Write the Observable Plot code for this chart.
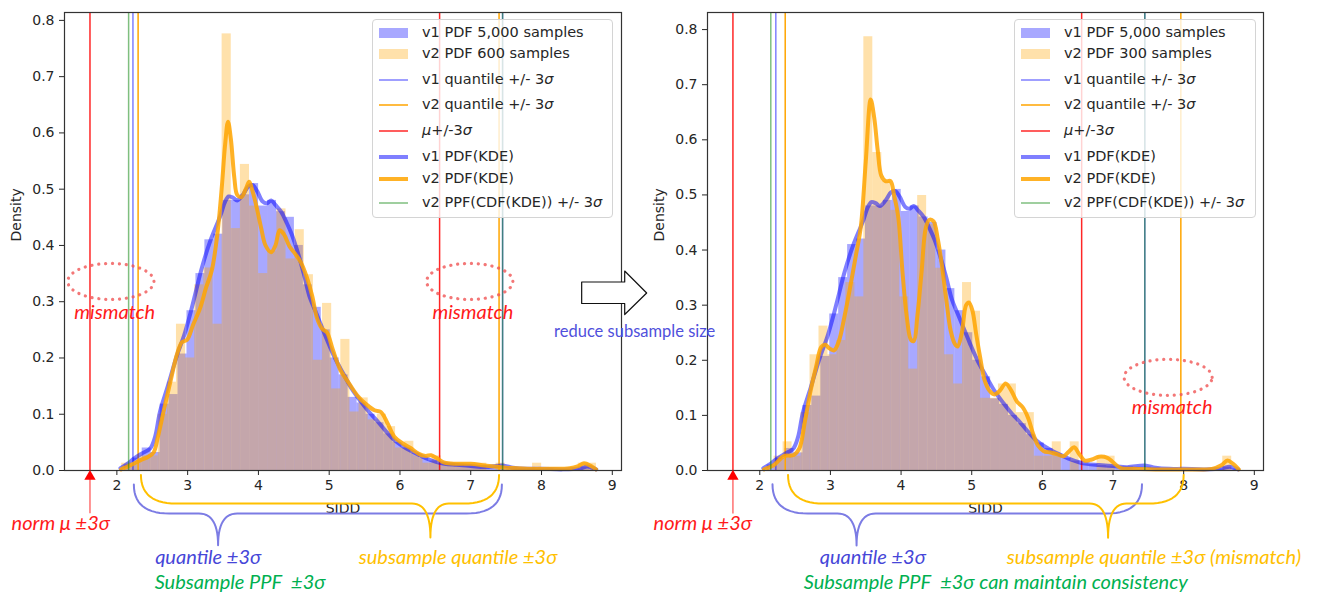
<!DOCTYPE html>
<html><head><meta charset="utf-8">
<script src="https://cdn.jsdelivr.net/npm/d3@7"></script>
<script src="https://cdn.jsdelivr.net/npm/@observablehq/plot@0.6"></script>
<style>
body{margin:0;background:#fff;}
#wrap{position:relative;width:1318px;height:596px;overflow:hidden;background:#fff;}
#wrap>svg{position:absolute;top:0;}
.legend{position:absolute;top:19px;height:199px;box-sizing:border-box;border:1px solid #d4d4d4;border-radius:4px;background:rgba(255,255,255,0.8);font-family:"DejaVu Sans";font-size:14.5px;color:#262626;}
.row{position:absolute;left:0;width:100%;height:0;}
.row svg{position:absolute;left:6px;top:-6px;}
.row span{position:absolute;left:49px;top:0;transform:translateY(-52%);white-space:nowrap;line-height:1;}
</style></head>
<body><div id="wrap"></div>
<script>
// ---------- data ----------
const xDomain = [1.26, 9.13];
const xTicks = [2, 3, 4, 5, 6, 7, 8, 9];
const yTicks = [0, 0.1, 0.2, 0.3, 0.4, 0.5, 0.6, 0.7, 0.8];

// v1 histogram (5,000 samples): bin start, bin width, densities
const v1Start = 2.105, v1Width = 0.1265;
const v1Density = [0.01,0.022,0.04,0.032,0.118,0.135,0.207,0.284,0.35,0.41,
  0.42,0.48,0.48,0.49,0.51,0.47,0.48,0.46,0.45,0.40,
  0.33,0.29,0.25,0.20,0.17,0.13,0.12,0.10,0.085,0.065,
  0.05,0.04,0.03,0.022,0.017,0.012,0.011,0.009,0.008,0.007,
  0.007,0.006,0.006,0.005,0.004,0.004,0.003,0.003,0.002,0.002,
  0.003,0.006,0.003];

// v2 histogram, left panel (600 samples)
const v2aStart = 2.068, v2aWidth = 0.129;
const v2aDensity = [0.013,0.013,0.026,0.026,0.1,0.157,0.26,0.2,0.33,0.36,
  0.26,0.776,0.43,0.544,0.47,0.35,0.39,0.465,0.376,0.428,
  0.348,0.196,0.297,0.145,0.233,0.104,0.129,0.09,0.1,0.078,
  0.04,0.052,0.026,0.013,0.026,0.013,0.013,0.013,0.013,0.013,
  0,0.013,0,0,0,0.013,0,0,0,0,
  0.013,0.013];

// v2 histogram, right panel (300 samples)
const v2bStart = 2.076, v2bWidth = 0.127;
const v2bDensity = [0,0.026,0.052,0.026,0.105,0.21,0.262,0.21,0.236,0.341,
  0.315,0.787,0.577,0.525,0.472,0.315,0.184,0.499,0.446,0.367,
  0.21,0.157,0.341,0.289,0.131,0.131,0.157,0.157,0.105,0.105,
  0.026,0.026,0.052,0,0.052,0,0,0.026,0.026,0,
  0,0,0,0,0,0,0,0,0,0,
  0,0.026,0];

// KDE curves [x, density]
const v1Kde = [[2.05,0.004],[2.15,0.012],[2.24,0.021],[2.35,0.03],[2.47,0.039],[2.54,0.06],[2.61,0.105],[2.72,0.15],[2.85,0.205],[2.95,0.24],[3.04,0.28],[3.12,0.32],[3.2,0.36],[3.32,0.408],[3.46,0.452],[3.53,0.478],[3.58,0.487],[3.64,0.485],[3.70,0.48],[3.78,0.49],[3.86,0.505],[3.92,0.507],[3.98,0.497],[4.06,0.478],[4.12,0.475],[4.18,0.48],[4.24,0.472],[4.32,0.46],[4.40,0.44],[4.47,0.42],[4.55,0.39],[4.64,0.35],[4.72,0.31],[4.80,0.285],[4.88,0.26],[4.97,0.232],[5.08,0.2],[5.2,0.172],[5.32,0.145],[5.45,0.122],[5.57,0.103],[5.68,0.088],[5.8,0.07],[5.92,0.054],[6.04,0.043],[6.15,0.035],[6.28,0.027],[6.4,0.02],[6.52,0.015],[6.63,0.012],[6.8,0.01],[7.0,0.008],[7.2,0.006],[7.45,0.009],[7.6,0.005],[7.8,0.003],[8.0,0.003],[8.3,0.002],[8.55,0.004],[8.65,0.007],[8.77,0.002]];
const v2aKde = [[2.06,0.002],[2.2,0.01],[2.33,0.018],[2.45,0.025],[2.52,0.032],[2.58,0.06],[2.66,0.105],[2.76,0.16],[2.85,0.207],[2.92,0.228],[2.99,0.232],[3.08,0.26],[3.18,0.29],[3.26,0.325],[3.34,0.355],[3.42,0.42],[3.48,0.5],[3.53,0.58],[3.57,0.62],[3.61,0.59],[3.66,0.52],[3.70,0.49],[3.76,0.486],[3.82,0.5],[3.87,0.513],[3.92,0.495],[3.98,0.465],[4.04,0.43],[4.1,0.4],[4.18,0.388],[4.24,0.4],[4.3,0.427],[4.36,0.42],[4.44,0.398],[4.52,0.385],[4.6,0.37],[4.68,0.345],[4.76,0.31],[4.83,0.27],[4.9,0.252],[4.97,0.245],[5.05,0.215],[5.16,0.178],[5.28,0.155],[5.40,0.133],[5.52,0.118],[5.64,0.107],[5.73,0.104],[5.82,0.085],[5.92,0.06],[6.04,0.048],[6.15,0.04],[6.26,0.03],[6.36,0.026],[6.44,0.027],[6.52,0.022],[6.63,0.014],[6.8,0.012],[7.0,0.012],[7.2,0.009],[7.5,0.005],[7.8,0.003],[8.1,0.003],[8.4,0.004],[8.52,0.008],[8.6,0.013],[8.7,0.008],[8.77,0.002]];
const v2bKde = [[2.06,0.002],[2.2,0.01],[2.34,0.026],[2.48,0.028],[2.56,0.04],[2.64,0.09],[2.72,0.145],[2.8,0.19],[2.87,0.224],[2.93,0.228],[2.98,0.222],[3.05,0.218],[3.12,0.235],[3.2,0.28],[3.28,0.333],[3.36,0.39],[3.43,0.442],[3.5,0.56],[3.57,0.673],[3.62,0.64],[3.67,0.58],[3.72,0.535],[3.78,0.525],[3.85,0.525],[3.9,0.5],[3.96,0.46],[4.02,0.36],[4.08,0.28],[4.14,0.237],[4.18,0.235],[4.23,0.28],[4.29,0.36],[4.35,0.44],[4.4,0.455],[4.46,0.452],[4.52,0.42],[4.58,0.37],[4.64,0.31],[4.7,0.255],[4.76,0.23],[4.8,0.225],[4.86,0.25],[4.92,0.3],[4.96,0.305],[5.01,0.29],[5.06,0.25],[5.12,0.205],[5.18,0.165],[5.25,0.145],[5.32,0.138],[5.4,0.145],[5.48,0.158],[5.56,0.145],[5.64,0.125],[5.72,0.115],[5.8,0.095],[5.86,0.07],[5.94,0.045],[6.02,0.035],[6.1,0.033],[6.2,0.03],[6.3,0.026],[6.38,0.035],[6.45,0.042],[6.52,0.03],[6.6,0.018],[6.7,0.02],[6.8,0.025],[6.92,0.023],[7.0,0.015],[7.1,0.005],[7.3,0.003],[7.6,0.002],[8.0,0.002],[8.4,0.003],[8.54,0.01],[8.62,0.018],[8.7,0.012],[8.78,0.002]];

// vertical reference lines
const leftMu = [1.62, 6.56], leftV1Q = [2.227, 7.45], leftV2Q = [2.30, 7.40], leftPpf = [2.166, 7.45];
const rightMu = [1.62, 6.556], rightV1Q = [2.227, 7.45], rightV2Q = [2.36, 7.96], rightPpf = [2.156, 7.45];

// legend labels
const legendLeft = ["v1 PDF 5,000 samples", "v2 PDF 600 samples", "v1 quantile +/- 3<i>σ</i>", "v2 quantile +/- 3<i>σ</i>", "<i>μ</i>+/-3<i>σ</i>", "v1 PDF(KDE)", "v2 PDF(KDE)", "v2 PPF(CDF(KDE)) +/- 3<i>σ</i>"];
const legendRight = ["v1 PDF 5,000 samples", "v2 PDF 300 samples", "v1 quantile +/- 3<i>σ</i>", "v2 quantile +/- 3<i>σ</i>", "<i>μ</i>+/-3<i>σ</i>", "v1 PDF(KDE)", "v2 PDF(KDE)", "v2 PPF(CDF(KDE)) +/- 3<i>σ</i>"];

// ---------- annotations (data coordinates) ----------
const RED = "#ff1a1a", BLUE_T = "#4646d8", GOLD = "#ffc000", GREEN_T = "#00b050";
const leftNotes = [
  {x: 1.97, y: 0.281, text: "mismatch", c: RED},
  {x: 7.03, y: 0.281, text: "mismatch", c: RED},
  {x: 1.207, y: -0.094, text: "norm μ ±3σ", c: RED},
  {x: 3.29, y: -0.155, text: "quantile ±3σ", c: BLUE_T},
  {x: 6.82, y: -0.155, text: "subsample quantile ±3σ", c: GOLD},
  {x: 3.74, y: -0.2, text: "Subsample PPF  ±3σ", c: GREEN_T}
];
const rightNotes = [
  {x: 7.836, y: 0.1145, text: "mismatch", c: RED},
  {x: 1.193, y: -0.0964, text: "norm μ ±3σ", c: RED},
  {x: 3.60, y: -0.158, text: "quantile ±3σ", c: BLUE_T},
  {x: 7.58, y: -0.158, text: "subsample quantile ±3σ (mismatch)", c: GOLD},
  {x: 5.34, y: -0.204, text: "Subsample PPF  ±3σ can maintain consistency", c: GREEN_T}
];
const leftEllipses = [{cx: 1.915, cy: 0.336, rx: 0.609, ry: 0.032}, {cx: 6.986, cy: 0.336, rx: 0.609, ry: 0.032}];
const rightEllipses = [{cx: 7.78, cy: 0.169, rx: 0.623, ry: 0.0327}];
const leftBraces = [
  {x1: 2.24, x2: 7.44, xc: 3.43, yEnd: -0.025, yMid: -0.0764, yTip: -0.133, r: 0.5, rc: 0.27, c: "#7c7ce4"},
  {x1: 2.34, x2: 7.40, xc: 6.43, yEnd: -0.008, yMid: -0.0587, yTip: -0.119, r: 0.5, rc: 0.26, c: "#ffc000"}
];
const rightBraces = [
  {x1: 2.18, x2: 7.41, xc: 3.37, yEnd: -0.025, yMid: -0.078, yTip: -0.136, r: 0.5, rc: 0.27, c: "#7c7ce4"},
  {x1: 2.40, x2: 8.0, xc: 6.93, yEnd: -0.008, yMid: -0.06, yTip: -0.122, r: 0.5, rc: 0.26, c: "#ffc000"}
];
const bigArrow = [[-0.521,0.342],[0.088,0.342],[0.088,0.362],[0.399,0.322],[0.088,0.283],[0.088,0.303],[-0.521,0.303],[-0.521,0.342]];

// ---------- helpers ----------
const bins = (start, width, dens) => dens.map((d, i) => ({x1: start + i * width, x2: start + (i + 1) * width, y: d}));
function bracePts(b) {
  const pts = [];
  const q = (p0, p1, p2) => { for (let k = 0; k <= 14; k++) { const t = k / 14; pts.push([(1-t)*(1-t)*p0[0] + 2*(1-t)*t*p1[0] + t*t*p2[0], (1-t)*(1-t)*p0[1] + 2*(1-t)*t*p1[1] + t*t*p2[1]]); } };
  q([b.x1, b.yEnd], [b.x1, b.yMid], [b.x1 + b.r, b.yMid]);
  q([b.xc - b.rc, b.yMid], [b.xc, b.yMid], [b.xc, b.yTip]);
  q([b.xc, b.yTip], [b.xc, b.yMid], [b.xc + b.rc, b.yMid]);
  q([b.x2 - b.r, b.yMid], [b.x2, b.yMid], [b.x2, b.yEnd]);
  return pts;
}
function ellipsePts(e) {
  return d3.range(0, 73).map(k => { const t = k / 72 * 2 * Math.PI; return [e.cx + e.rx * Math.cos(t), e.cy + e.ry * Math.sin(t)]; });
}

function panel(cfg) {
  const marks = [
    Plot.rectY(bins(v1Start, v1Width, v1Density), {x1: "x1", x2: "x2", y: "y", fill: "blue", fillOpacity: 0.34}),
    Plot.rectY(bins(cfg.v2Start, cfg.v2Width, cfg.v2Density), {x1: "x1", x2: "x2", y: "y", fill: "orange", fillOpacity: 0.33}),
    Plot.ruleX(cfg.v1Q, {stroke: "blue", strokeOpacity: 0.5, strokeWidth: 1.5}),
    Plot.ruleX(cfg.v2Q, {stroke: "orange", strokeWidth: 1.5}),
    Plot.ruleX(cfg.mu, {stroke: "red", strokeOpacity: 0.85, strokeWidth: 1.5}),
    Plot.line(v1Kde, {x: d => d[0], y: d => d[1], stroke: "blue", strokeOpacity: 0.5, strokeWidth: 4, curve: "catmull-rom"}),
    Plot.line(cfg.v2Kde, {x: d => d[0], y: d => d[1], stroke: "orange", strokeOpacity: 0.85, strokeWidth: 4, curve: "catmull-rom"}),
    Plot.ruleX(cfg.ppf, {stroke: "green", strokeOpacity: 0.5, strokeWidth: 1.5}),
    Plot.frame({stroke: "#333", strokeWidth: 1.2}),
    Plot.axisX({ticks: xTicks, tickSize: 5, tickPadding: 5, tickFormat: d => String(d), label: null}),
    Plot.axisY({ticks: yTicks, tickSize: 5, tickPadding: 5, tickFormat: d3.format(".1f"), label: null}),
    Plot.text(["SIDD"], {frameAnchor: "bottom", dy: 38, lineAnchor: "middle", fontSize: 14, fill: "#262626"}),
    Plot.text(["Density"], {frameAnchor: "left", dx: -48, rotate: -90, lineAnchor: "middle", fontSize: 14, fill: "#262626"}),
    // norm mu -3 sigma arrow
    Plot.link([cfg.mu[0]], {x1: d => d, x2: d => d, y1: cfg.arrowBottom, y2: cfg.arrowHead, stroke: "#ff4d4d", strokeWidth: 1.2}),
    Plot.dot([cfg.mu[0]], {x: d => d, y: cfg.arrowHead, symbol: "triangle", r: 4.2, fill: "red"})
  ];
  for (const b of cfg.braces) marks.push(Plot.line(bracePts(b), {x: d => d[0], y: d => d[1], stroke: b.c, strokeWidth: 2}));
  for (const e of cfg.ellipses) marks.push(Plot.line(ellipsePts(e), {x: d => d[0], y: d => d[1], stroke: "#f05555", strokeOpacity: 0.8, strokeWidth: 3.2, strokeDasharray: "0.1 6.8", strokeLinecap: "round"}));
  marks.push(Plot.text(cfg.notes, {x: "x", y: "y", text: "text", fill: "c", fontSize: 20, fontStyle: "italic", fontFamily: "Lato", lineAnchor: "middle"}));
  if (cfg.extra) marks.push(...cfg.extra);
  return Plot.plot({
    width: cfg.width, height: 596,
    marginLeft: cfg.ml, marginRight: cfg.mr, marginTop: 12, marginBottom: 126,
    x: {domain: xDomain, label: null},
    y: {domain: [0, cfg.yMax], label: null},
    color: {type: "identity"},
    style: {fontFamily: "DejaVu Sans", fontSize: "14px", color: "#262626", background: "none"},
    marks
  });
}

const wrap = document.getElementById("wrap");
const left = panel({
  width: 659, ml: 64, mr: 38, yMax: 0.814,
  v2Start: v2aStart, v2Width: v2aWidth, v2Density: v2aDensity, v2Kde: v2aKde,
  v1Q: leftV1Q, v2Q: leftV2Q, mu: leftMu, ppf: leftPpf,
  arrowBottom: -0.076, arrowHead: -0.0105,
  braces: leftBraces, ellipses: leftEllipses, notes: leftNotes
});
left.style.left = "0px";
wrap.appendChild(left);

const right = panel({
  width: 778, ml: 167, mr: 55, yMax: 0.831,
  v2Start: v2bStart, v2Width: v2bWidth, v2Density: v2bDensity, v2Kde: v2bKde,
  v1Q: rightV1Q, v2Q: rightV2Q, mu: rightMu, ppf: rightPpf,
  arrowBottom: -0.078, arrowHead: -0.0107,
  braces: rightBraces, ellipses: rightEllipses, notes: rightNotes,
  extra: [
    Plot.line(bigArrow, {x: d => d[0], y: d => d[1], fill: "white", stroke: "#111", strokeWidth: 1.2}),
    Plot.text(["reduce subsample size"], {x: 0.229, y: 0.251, fill: "#5050dc", fontSize: 16.5, fontFamily: "Lato", lineAnchor: "middle"})
  ]
});
right.style.left = "540px";
wrap.appendChild(right);

// ---------- legends ----------
const rowsY = [13, 34, 60, 85, 111, 137, 159, 183];
const swatches = [
  {kind: "patch", color: "rgba(0,0,255,0.34)"},
  {kind: "patch", color: "rgba(255,165,0,0.33)"},
  {kind: "line", color: "rgba(0,0,255,0.5)", w: 1.5},
  {kind: "line", color: "orange", w: 1.5},
  {kind: "line", color: "rgba(255,0,0,0.85)", w: 1.5},
  {kind: "line", color: "rgba(0,0,255,0.5)", w: 4},
  {kind: "line", color: "rgba(255,165,0,0.85)", w: 4},
  {kind: "line", color: "rgba(0,128,0,0.5)", w: 1.5}
];
function legend(labels, leftPx, widthPx) {
  const box = document.createElement("div");
  box.className = "legend";
  box.style.left = leftPx + "px";
  box.style.width = widthPx + "px";
  labels.forEach((lab, i) => {
    const row = document.createElement("div");
    row.className = "row";
    row.style.top = rowsY[i] + "px";
    const s = swatches[i];
    const sw = s.kind === "patch"
      ? `<svg width="30" height="12"><rect x="0" y="1" width="29" height="10" fill="${s.color}"/></svg>`
      : `<svg width="30" height="12"><line x1="0" x2="29" y1="6" y2="6" stroke="${s.color}" stroke-width="${s.w}"/></svg>`;
    row.innerHTML = sw + `<span>${lab}</span>`;
    box.appendChild(row);
  });
  wrap.appendChild(box);
}
legend(legendLeft, 372, 241);
legend(legendRight, 1014, 242);
</script>
</body></html>
